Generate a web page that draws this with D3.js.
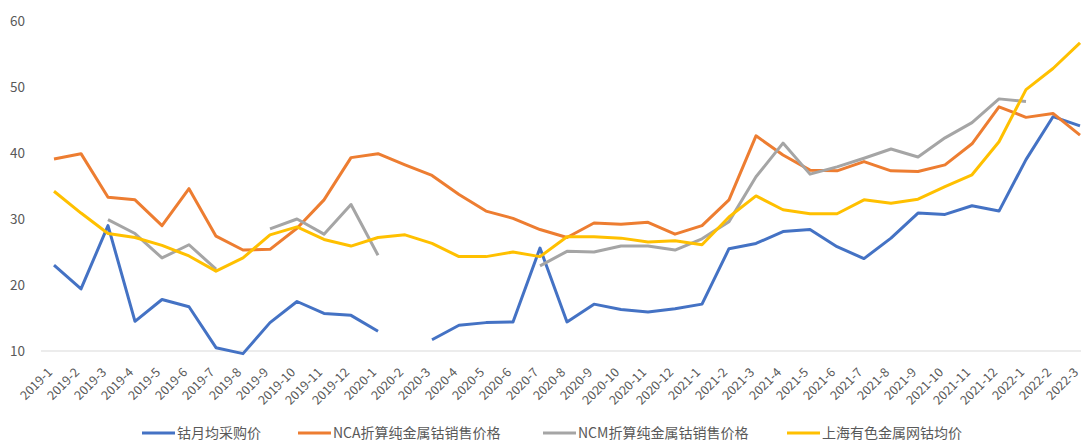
<!DOCTYPE html>
<html>
<head>
<meta charset="utf-8">
<script src="https://cdn.jsdelivr.net/npm/d3@7/dist/d3.min.js"></script>
<style>
  body { margin: 0; background: #fff; }
  text { font-family: "Noto Sans CJK SC", "Noto Sans", sans-serif; fill: #595959; }
</style>
</head>
<body>
<div id="chart"></div>
<script>
// months 2019-1 .. 2022-3
var months = [];
for (var y = 2019; y <= 2022; y++) {
    for (var m = 1; m <= 12; m++) {
        if (y === 2022 && m > 3) break;
        months.push(y + "-" + m);
    }
}

var seriesNames = ["钴月均采购价", "NCA折算纯金属钴销售价格", "NCM折算纯金属钴销售价格", "上海有色金属网钴均价"];
var seriesColors = ["#4472C4", "#ED7D31", "#A5A5A5", "#FFC000"];

var cobaltPurchase = [23.0, 19.4, 29.0, 14.5, 17.8, 16.7, 10.5, 9.6, 14.3, 17.5, 15.7, 15.4,
    13.0, null, 11.7, 13.9, 14.3, 14.4, 25.6, 14.4, 17.1, 16.3, 15.9, 16.4,
    17.1, 25.5, 26.3, 28.1, 28.4, 25.8, 24.0, 27.1, 30.9, 30.7, 32.0, 31.2,
    39.0, 45.5, 44.1];
var ncaPrice = [39.1, 39.9, 33.3, 32.9, 29.0, 34.6, 27.4, 25.3, 25.4, 28.6, 32.9, 39.3,
    39.9, 38.2, 36.6, 33.7, 31.2, 30.1, 28.4, 27.2, 29.4, 29.2, 29.5, 27.7,
    29.0, 32.9, 42.6, 39.7, 37.4, 37.3, 38.7, 37.3, 37.2, 38.2, 41.4, 47.0,
    45.4, 46.0, 42.7];
var ncmPrice = [null, null, 29.9, 27.8, 24.1, 26.1, 22.4, null, 28.5, 30.0, 27.7, 32.2,
    24.5, null, null, null, null, null, 22.9, 25.1, 25.0, 25.9, 25.9, 25.3,
    27.0, 29.6, 36.4, 41.5, 36.8, 37.9, 39.2, 40.6, 39.4, 42.3, 44.6, 48.2,
    47.8, null, null];
var smmPrice = [34.2, 30.9, 27.8, 27.2, 26.0, 24.4, 22.1, 24.1, 27.6, 28.8, 26.9, 25.9,
    27.2, 27.6, 26.3, 24.3, 24.3, 25.0, 24.3, 27.3, 27.3, 27.1, 26.5, 26.7,
    26.1, 30.3, 33.5, 31.4, 30.8, 30.8, 32.9, 32.4, 33.0, 34.9, 36.7, 41.7,
    49.6, 52.8, 56.7];
var yTicks = [10, 20, 30, 40, 50, 60];

var allSeries = [cobaltPurchase, ncaPrice, ncmPrice, smmPrice];

var width = 1081, height = 441;
var svg = d3.select("#chart").append("svg")
    .attr("width", width)
    .attr("height", height);

var x = d3.scalePoint()
    .domain(months)
    .range([54, 1080]);
var y = d3.scaleLinear()
    .domain([10, 60])
    .range([351, 21]);

// baseline
svg.append("line")
    .attr("x1", 41)
    .attr("x2", width)
    .attr("y1", y(10))
    .attr("y2", y(10))
    .attr("stroke", "#d9d9d9")
    .attr("stroke-width", 1);

// y labels
svg.append("g")
    .selectAll("text")
    .data(yTicks)
    .enter()
    .append("text")
    .attr("x", 25)
    .attr("y", function(d) { return y(d); })
    .attr("dy", "0.35em")
    .attr("text-anchor", "end")
    .style("font-size", "13.5px")
    .text(function(d) { return d; });

// x labels
svg.append("g")
    .selectAll("text")
    .data(months)
    .enter()
    .append("text")
    .attr("transform", function(d) {
        return "translate(" + (x(d) - 4) + ",370) rotate(-45)";
    })
    .attr("text-anchor", "end")
    .attr("dy", "0.35em")
    .style("font-size", "12.5px")
    .text(function(d) { return d; });

var line = d3.line()
    .defined(function(d) { return d.v !== null; })
    .x(function(d) { return x(d.m); })
    .y(function(d) { return y(d.v); });

svg.append("g")
    .selectAll("path")
    .data(allSeries)
    .enter()
    .append("path")
    .attr("d", function(s) {
        return line(s.map(function(v, i) { return { m: months[i], v: v }; }));
    })
    .attr("fill", "none")
    .attr("stroke", function(d, i) { return seriesColors[i]; })
    .attr("stroke-width", 3)
    .attr("stroke-linejoin", "round");

// legend
var legendX = [142, 298, 543, 787];
var legend = svg.append("g")
    .selectAll("g")
    .data(seriesNames)
    .enter()
    .append("g")
    .attr("transform", function(d, i) { return "translate(" + legendX[i] + ",433)"; });
legend.append("line")
    .attr("x1", 0)
    .attr("x2", 33)
    .attr("stroke", function(d, i) { return seriesColors[i]; })
    .attr("stroke-width", 3);
legend.append("text")
    .attr("x", 35)
    .attr("dy", "0.35em")
    .style("font-size", "14px")
    .text(function(d) { return d; });
</script>
</body>
</html>
